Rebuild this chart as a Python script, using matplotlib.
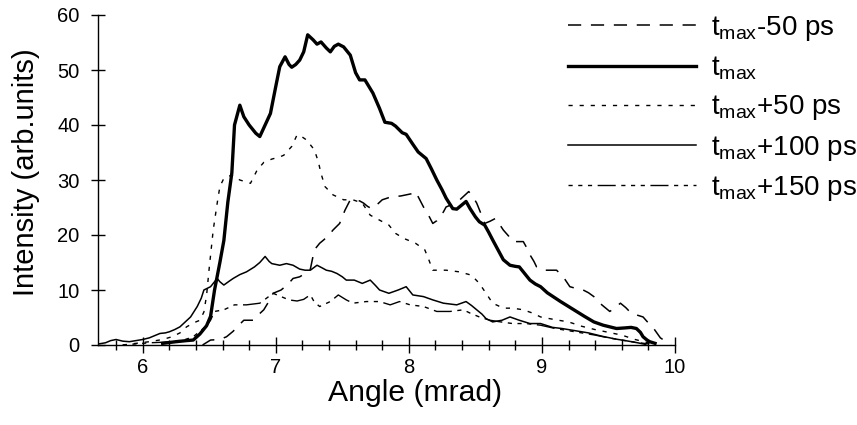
import matplotlib
matplotlib.use("Agg")
import matplotlib.pyplot as plt
from matplotlib.ticker import MultipleLocator

plt.rcParams['font.family'] = ['Liberation Sans', 'DejaVu Sans']
plt.rcParams['mathtext.fontset'] = 'custom'
plt.rcParams['mathtext.rm'] = 'Liberation Sans'
plt.rcParams['mathtext.it'] = 'Liberation Sans'
plt.rcParams['lines.scale_dashes'] = False

labels = [r'$\mathregular{t_{max}}$-50 ps', r'$\mathregular{t_{max}}$',
          r'$\mathregular{t_{max}}$+50 ps', r'$\mathregular{t_{max}}$+100 ps',
          r'$\mathregular{t_{max}}$+150 ps']

# t_max - 50 ps
m50_x = [6.45, 6.51, 6.58, 6.63, 6.68, 6.71, 6.76, 6.83, 6.87, 6.91, 6.95, 6.98, 7.04, 7.09, 7.13, 7.18,
         7.22, 7.26, 7.29, 7.33, 7.36, 7.40, 7.43, 7.48, 7.52, 7.56, 7.59, 7.63, 7.66, 7.69, 7.72, 7.76,
         7.80, 7.85, 7.90, 7.94, 7.98, 8.02, 8.05, 8.08, 8.11, 8.15, 8.18, 8.21, 8.23, 8.26, 8.28, 8.33,
         8.37, 8.41, 8.45, 8.48, 8.51, 8.54, 8.57, 8.61, 8.65, 8.68, 8.71, 8.75, 8.78, 8.83, 8.86, 8.89,
         8.91, 8.94, 8.96, 9.01, 9.06, 9.11, 9.16, 9.21, 9.24, 9.31, 9.35, 9.39, 9.45, 9.51, 9.55, 9.59,
         9.63, 9.67, 9.72, 9.76, 9.80, 9.84, 9.89, 9.94, 9.97]
m50_y = [0.0, 0.9, 1.0, 1.5, 2.5, 3.3, 4.5, 4.5, 5.5, 6.4, 8.0, 9.4, 10.0, 11.0, 12.1, 12.4,
         13.0, 13.8, 17.3, 18.5, 19.1, 20.0, 20.9, 22.1, 24.5, 26.4, 26.4, 26.2, 25.8, 25.2, 24.8, 25.5,
         26.4, 26.8, 27.0, 27.1, 27.3, 27.5, 27.9, 26.5, 25.1, 23.5, 22.1, 22.6, 23.3, 24.2, 25.1, 25.6,
         26.1, 27.0, 27.9, 27.0, 25.8, 24.0, 22.1, 22.5, 23.0, 22.0, 20.9, 19.8, 18.8, 18.8, 18.8, 17.5,
         16.4, 15.2, 14.2, 13.6, 13.6, 13.6, 12.4, 10.6, 10.4, 10.0, 9.5, 8.8, 7.3, 6.1, 6.8, 7.6,
         6.8, 5.8, 5.4, 5.1, 4.0, 3.0, 1.3, 0.5, 0.1]

# t_max
t0_x = [6.15, 6.25, 6.33, 6.38, 6.43, 6.48, 6.51, 6.54, 6.58, 6.61, 6.64, 6.67, 6.69, 6.73, 6.76, 6.80,
        6.85, 6.88, 6.92, 6.96, 7.00, 7.03, 7.07, 7.10, 7.12, 7.15, 7.18, 7.21, 7.24, 7.28, 7.31, 7.34,
        7.38, 7.41, 7.44, 7.47, 7.51, 7.56, 7.60, 7.63, 7.67, 7.70, 7.73, 7.78, 7.82, 7.87, 7.90, 7.95,
        7.98, 8.03, 8.07, 8.13, 8.17, 8.21, 8.25, 8.28, 8.33, 8.36, 8.40, 8.43, 8.46, 8.50, 8.53, 8.57,
        8.60, 8.63, 8.67, 8.71, 8.76, 8.80, 8.83, 8.87, 8.91, 8.95, 8.99, 9.04, 9.09, 9.14, 9.20, 9.26,
        9.32, 9.39, 9.46, 9.51, 9.56, 9.62, 9.67, 9.71, 9.74, 9.76, 9.79, 9.81, 9.85]
t0_y = [0.3, 0.6, 0.8, 0.9, 2.0, 3.5, 5.2, 10.0, 15.0, 19.0, 26.0, 31.3, 40.0, 43.6, 41.5, 40.0,
        38.5, 37.9, 40.0, 42.1, 47.0, 50.6, 52.4, 51.0, 50.5, 51.0, 51.8, 53.3, 56.4, 55.5, 54.7, 55.1,
        54.0, 53.3, 54.3, 54.7, 54.2, 52.7, 49.5, 48.2, 48.2, 47.0, 45.8, 43.0, 40.5, 40.3, 39.8, 38.6,
        38.3, 36.5, 35.1, 33.9, 32.0, 30.0, 28.2, 26.7, 24.8, 24.7, 25.5, 26.1, 24.8, 23.3, 22.4, 21.8,
        20.5, 19.1, 17.3, 15.5, 14.5, 14.3, 14.2, 13.0, 11.8, 11.1, 10.6, 9.5, 8.7, 7.9, 7.0, 6.1,
        5.2, 4.2, 3.6, 3.3, 3.0, 3.1, 3.2, 3.0, 2.3, 1.5, 0.9, 0.6, 0.3]

# t_max + 50 ps
p50_x = [5.85, 5.95, 6.05, 6.15, 6.22, 6.28, 6.33, 6.38, 6.43, 6.46, 6.48, 6.50, 6.53, 6.56, 6.58, 6.61,
         6.67, 6.73, 6.81, 6.86, 6.91, 6.97, 7.03, 7.06, 7.12, 7.16, 7.20, 7.23, 7.29, 7.32, 7.34, 7.37,
         7.43, 7.51, 7.58, 7.65, 7.71, 7.78, 7.85, 7.90, 7.96, 8.05, 8.12, 8.15, 8.18, 8.28, 8.38, 8.47,
         8.53, 8.58, 8.63, 8.71, 8.78, 8.86, 8.93, 8.99, 9.10, 9.20, 9.30, 9.40, 9.50, 9.60, 9.70, 9.80, 9.85]
p50_y = [0.0, 0.3, 0.6, 1.0, 1.5, 2.2, 3.3, 4.0, 4.5, 6.0, 9.0, 14.0, 20.9, 25.8, 28.8, 30.3,
         30.9, 30.0, 29.4, 31.8, 33.2, 33.8, 34.2, 34.5, 36.1, 38.2, 37.8, 37.3, 35.5, 33.3, 31.2, 28.8,
         27.3, 26.4, 26.4, 25.8, 23.6, 22.7, 21.8, 20.3, 19.4, 18.5, 17.3, 15.5, 13.6, 13.6, 13.3, 12.7,
         11.2, 9.4, 7.6, 6.7, 6.7, 6.4, 5.8, 5.1, 4.6, 4.2, 3.4, 2.8, 2.3, 1.8, 1.0, 0.4, 0.1]

# t_max + 100 ps
p100_x = [5.67, 5.72, 5.76, 5.80, 5.85, 5.90, 5.95, 6.00, 6.05, 6.10, 6.13, 6.17, 6.20, 6.24, 6.28, 6.32,
          6.36, 6.41, 6.44, 6.46, 6.51, 6.56, 6.58, 6.61, 6.65, 6.68, 6.73, 6.78, 6.84, 6.88, 6.92, 6.95,
          6.97, 7.03, 7.08, 7.13, 7.18, 7.22, 7.26, 7.31, 7.35, 7.38, 7.42, 7.46, 7.50, 7.53, 7.59, 7.65,
          7.71, 7.75, 7.78, 7.85, 7.92, 7.98, 8.03, 8.11, 8.18, 8.26, 8.36, 8.43, 8.47, 8.51, 8.55, 8.58,
          8.63, 8.70, 8.76, 8.83, 8.91, 8.99, 9.08, 9.15, 9.25, 9.35, 9.45, 9.55, 9.65, 9.72, 9.78]
p100_y = [0.2, 0.4, 0.8, 1.0, 0.7, 0.6, 0.8, 1.0, 1.3, 1.8, 2.1, 2.2, 2.4, 2.8, 3.3, 4.2,
          5.1, 7.0, 8.5, 10.0, 10.6, 12.1, 11.5, 10.9, 11.6, 12.1, 12.8, 13.3, 14.2, 15.0, 16.1, 15.2,
          14.8, 14.5, 14.8, 14.5, 13.8, 13.6, 13.6, 14.5, 14.0, 13.6, 13.4, 13.0, 12.4, 11.8, 11.8, 11.2,
          11.8, 10.8, 10.0, 9.4, 10.0, 10.6, 9.1, 8.8, 8.2, 7.6, 7.3, 7.9, 7.2, 6.4, 5.6, 4.8,
          4.2, 4.5, 5.1, 4.5, 3.9, 3.9, 3.2, 3.0, 2.6, 2.2, 1.6, 1.1, 0.7, 0.4, 0.1]

# t_max + 150 ps
p150_x = [5.85, 5.95, 6.05, 6.15, 6.25, 6.32, 6.38, 6.43, 6.48, 6.51, 6.54, 6.61, 6.69, 6.78, 6.88, 6.93,
          6.98, 7.04, 7.10, 7.16, 7.21, 7.24, 7.26, 7.29, 7.33, 7.41, 7.47, 7.53, 7.58, 7.68, 7.78, 7.86,
          7.93, 8.01, 8.11, 8.21, 8.31, 8.41, 8.46, 8.53, 8.61, 8.69, 8.78, 8.88, 8.99, 9.10, 9.20, 9.30,
          9.40, 9.50, 9.60, 9.70, 9.80]
p150_y = [0.0, 0.2, 0.4, 0.5, 0.7, 1.0, 1.5, 2.5, 3.5, 4.5, 6.1, 6.4, 7.3, 7.3, 7.6, 8.5,
          9.4, 8.8, 8.2, 8.0, 8.3, 8.8, 9.1, 7.8, 7.0, 7.9, 9.1, 8.2, 7.6, 7.9, 7.9, 7.3,
          7.9, 7.3, 7.0, 6.1, 6.1, 6.4, 5.8, 5.1, 4.5, 4.2, 3.9, 3.9, 3.6, 3.0, 2.6, 2.2,
          1.8, 1.3, 0.9, 0.5, 0.2]

x_ticks = [6, 7, 8, 9, 10]
y_ticks = [0, 10, 20, 30, 40, 50, 60]

W, H = 857, 425
fig = plt.figure(figsize=(W / 100, H / 100), dpi=100)
ax = fig.add_axes([97.7 / W, 80 / H, (675 - 97.7) / W, 330 / H])

ax.plot(m50_x, m50_y, color='black', lw=1.1, dashes=(9.5, 7.0), label=labels[0])
ax.plot(t0_x, t0_y, color='black', lw=2.4, label=labels[1])
ax.plot(p50_x, p50_y, color='black', lw=1.0, dashes=(3.0, 5.0), label=labels[2])
ax.plot(p100_x, p100_y, color='black', lw=1.1, label=labels[3])
ax.plot(p150_x, p150_y, color='black', lw=1.0,
        dashes=(3.0, 4.0, 3.0, 4.0, 3.0, 4.0, 13.0, 4.0), label=labels[4])

ax.set_xlim(5.662, 10)
ax.set_ylim(0, 60)
ax.set_xticks(x_ticks)
ax.set_yticks(y_ticks)
ax.xaxis.set_minor_locator(MultipleLocator(0.2))
for s in ['top', 'right']:
    ax.spines[s].set_visible(False)
for s in ['left', 'bottom']:
    ax.spines[s].set_linewidth(1.0)
ax.tick_params(axis='both', which='major', direction='inout', width=1.0, labelsize=14.5)
ax.tick_params(axis='x', which='major', length=11, pad=4)
ax.tick_params(axis='y', which='major', length=10, pad=8)
ax.tick_params(axis='x', which='minor', direction='inout', length=6.5, width=1.0)

ax.set_xlabel('Angle (mrad)', fontsize=21.7)
ax.set_ylabel('Intensity (arb.units)', fontsize=21)
ax.xaxis.set_label_coords((415 - 97.7) / 577.3, -0.104)
ax.yaxis.set_label_coords(-0.100, 0.524)

leg = ax.legend(loc='upper left', bbox_to_anchor=(568 / W, 1 - 14 / H),
                bbox_transform=fig.transFigure, frameon=False, fontsize=20,
                handlelength=4.6, handletextpad=0.55, labelspacing=0.41,
                borderpad=0, borderaxespad=0)

fig.savefig('out.png', dpi=100)
